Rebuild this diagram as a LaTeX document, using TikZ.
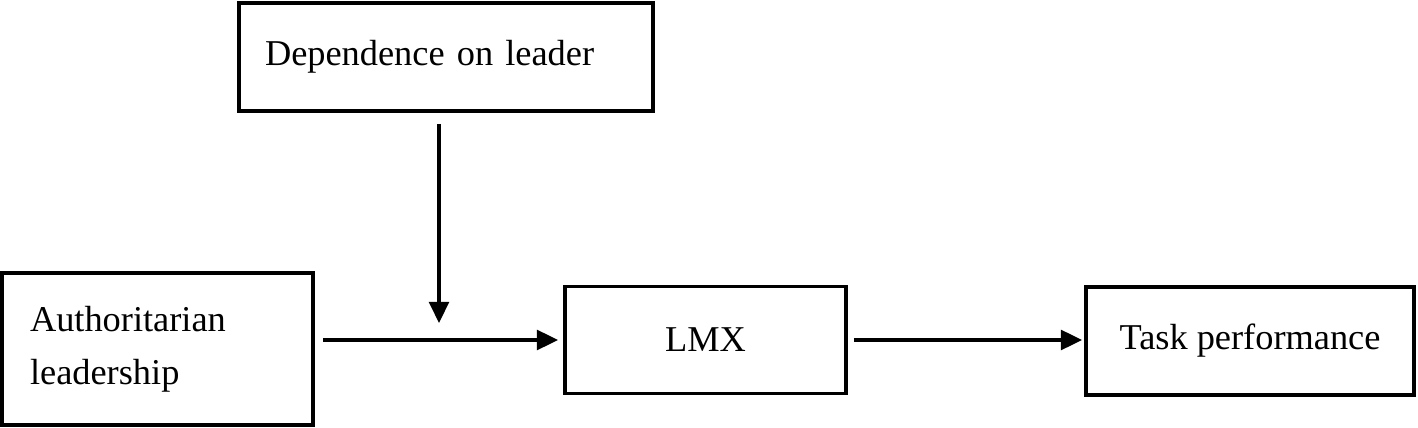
\documentclass[tikz,border=0pt]{standalone}
\usepackage{fontspec}
\setmainfont{Liberation Serif}
\usetikzlibrary{arrows.meta, positioning}
\newlength\pxu
\setlength\pxu{0.33pt}
\tikzset{
  box/.style={draw, line width=1.3pt, inner sep=0pt, font=\fontsize{12}{17.5}\selectfont},
  arr/.style={line width=1pt, -{Triangle[length=7pt, width=6.6pt]}}
}

\begin{document}
\begin{tikzpicture}[x=0.33pt, y=-0.33pt]
    \useasboundingbox (0,0) rectangle (1418,428);

    % Boxes
    \node[box, minimum width=414*\pxu, minimum height=108*\pxu, inner xsep=26*\pxu,
          text width=362*\pxu, align=left] (dep) at (446,57) {Dependence on leader};
    \node[box, minimum width=311*\pxu, minimum height=152*\pxu, inner xsep=28*\pxu,
          text width=255*\pxu, align=left] (auth) at (157.5,349) {Authoritarian\\leadership};
    \node[box, minimum width=281*\pxu, minimum height=107*\pxu] (lmx) at (705.5,340) {LMX};
    \node[box, minimum width=328*\pxu, minimum height=108*\pxu] (task) at (1250,341) {Task performance};

    % Moderation point
    \coordinate (modpt) at (439,323);

    % Arrows
    \draw[arr] ([yshift=-11*\pxu]dep.south -| modpt) -- (modpt);
    \draw[arr, shorten <=8*\pxu, shorten >=5*\pxu] (auth.east |- lmx.west) -- (lmx.west);
    \draw[arr, shorten <=6*\pxu, shorten >=2*\pxu] (lmx.east) -- (task.west |- lmx.east);
\end{tikzpicture}
\end{document}
